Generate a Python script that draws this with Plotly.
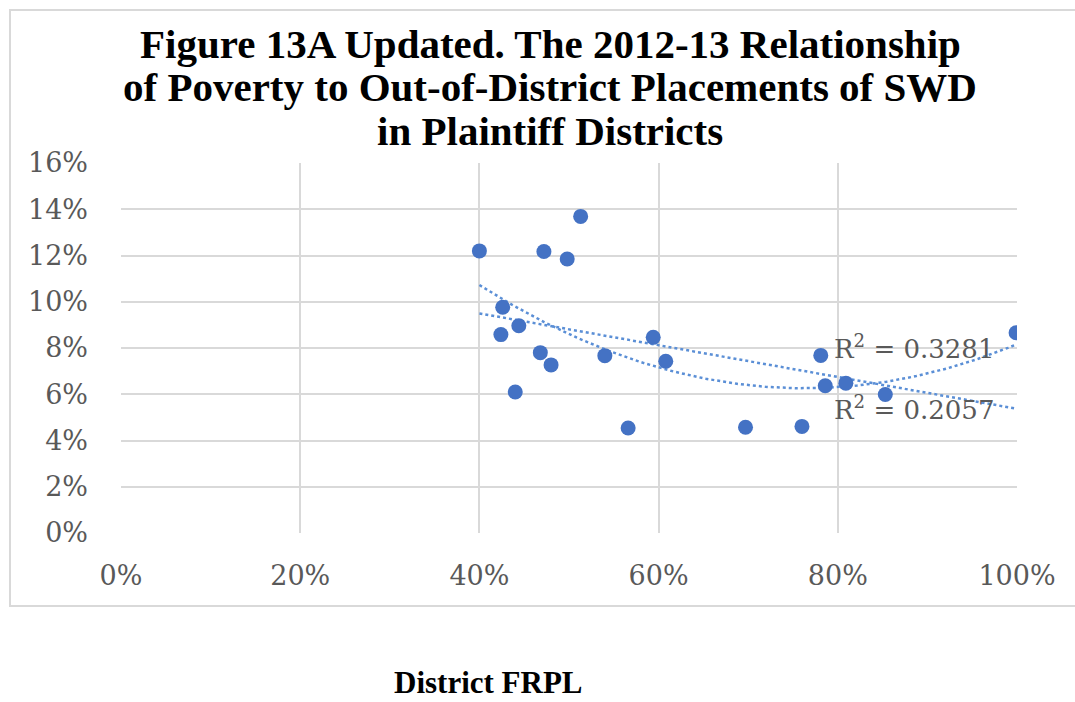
import numpy as np
import plotly.graph_objects as go

# District free/reduced-price lunch share (x) and out-of-district placement rate (y)
frpl = [0.400, 0.426, 0.424, 0.444, 0.440, 0.472, 0.468, 0.480, 0.498, 0.513,
        0.540, 0.566, 0.594, 0.608, 0.697, 0.760, 0.781, 0.786, 0.809, 0.853, 0.999]
placement = [0.1220, 0.0976, 0.0858, 0.0896, 0.0610, 0.1217, 0.0780, 0.0727, 0.1185, 0.1369,
             0.0767, 0.0454, 0.0846, 0.0743, 0.0457, 0.0461, 0.0768, 0.0637, 0.0648, 0.0599, 0.0866]

x_ticks = [0, 0.2, 0.4, 0.6, 0.8, 1.0]
x_labels = ["0%", "20%", "40%", "60%", "80%", "100%"]
y_ticks = [0, 0.02, 0.04, 0.06, 0.08, 0.10, 0.12, 0.14, 0.16]
y_labels = ["0%", "2%", "4%", "6%", "8%", "10%", "12%", "14%", "16%"]

r2_labels = ["R<sup>2</sup> = 0.3281", "R<sup>2</sup> = 0.2057"]

title_lines = ["Figure 13A Updated. The 2012-13 Relationship",
               "of Poverty to Out-of-District Placements of SWD",
               "in Plaintiff Districts"]
x_title = "District FRPL"

# Trendlines: second-order polynomial and linear least-squares fits
xs = np.linspace(min(frpl), max(frpl), 200)
poly_fit = np.polyval(np.polyfit(frpl, placement, 2), xs)
lin_fit = np.polyval(np.polyfit(frpl, placement, 1), xs)

TICK_GRAY = "#595959"
GRID = "#d9d9d9"
DOT_BLUE = "#4472c4"
TREND_BLUE = "#5b8fd6"

# Plot-area geometry in pixels, used to place paper-space annotations
PLOT_L, PLOT_W = 121, 896
PLOT_BOTTOM, PLOT_H = 533, 370


def px_x(px):
    return (px - PLOT_L) / PLOT_W


def px_y(px):
    return (PLOT_BOTTOM - px) / PLOT_H


fig = go.Figure()
fig.add_trace(go.Scatter(x=xs, y=poly_fit, mode="lines",
                         line=dict(color=TREND_BLUE, width=2.5, dash="dot"),
                         hoverinfo="skip"))
fig.add_trace(go.Scatter(x=xs, y=lin_fit, mode="lines",
                         line=dict(color=TREND_BLUE, width=2.5, dash="dot"),
                         hoverinfo="skip"))
fig.add_trace(go.Scatter(x=frpl, y=placement, mode="markers",
                         marker=dict(color=DOT_BLUE, size=15, line=dict(width=0))))

tick_font = dict(family="DejaVu Serif", size=27, color=TICK_GRAY)

fig.update_layout(
    width=1075, height=702,
    margin=dict(l=PLOT_L, r=1075 - PLOT_L - PLOT_W, t=PLOT_BOTTOM - PLOT_H, b=702 - PLOT_BOTTOM),
    paper_bgcolor="white", plot_bgcolor="white",
    showlegend=False,
    xaxis=dict(range=[0, 1], tickvals=x_ticks, ticktext=x_labels,
               showgrid=True, gridcolor=GRID, gridwidth=2, zeroline=False,
               showline=False, ticks="", tickfont=tick_font, ticklabelstandoff=24),
    yaxis=dict(range=[0, 0.16], tickvals=y_ticks, ticktext=y_labels,
               showgrid=True, gridcolor=GRID, gridwidth=2, zeroline=False,
               showline=False, ticks="", tickfont=tick_font, ticklabelstandoff=32),
    shapes=[dict(type="rect", xref="paper", yref="paper",
                 x0=px_x(10), x1=px_x(1090), y0=px_y(606), y1=px_y(10),
                 line=dict(color="#d9d9d9", width=2), fillcolor="rgba(0,0,0,0)",
                 layer="below")],
)

# Chart title, three centred lines
for line, y_px in zip(title_lines, [44, 87, 131]):
    fig.add_annotation(text=f"<b>{line}</b>", xref="paper", yref="paper",
                       x=px_x(550), y=px_y(y_px),
                       xanchor="center", yanchor="middle", showarrow=False,
                       font=dict(family="Liberation Serif", size=41, color="black"))

# R-squared labels beside the trendline ends
for label, y_px in zip(r2_labels, [347, 408]):
    fig.add_annotation(text=label, xref="paper", yref="paper",
                       x=px_x(832), y=px_y(y_px),
                       xanchor="left", yanchor="middle", showarrow=False,
                       font=dict(family="DejaVu Serif", size=26, color=TICK_GRAY))

# Axis title below the chart frame
fig.add_annotation(text=f"<b>{x_title}</b>", xref="paper", yref="paper",
                   x=px_x(488), y=px_y(702),
                   xanchor="center", yanchor="bottom", showarrow=False,
                   font=dict(family="Liberation Serif", size=31, color="black"))

fig.write_html("out.html")
